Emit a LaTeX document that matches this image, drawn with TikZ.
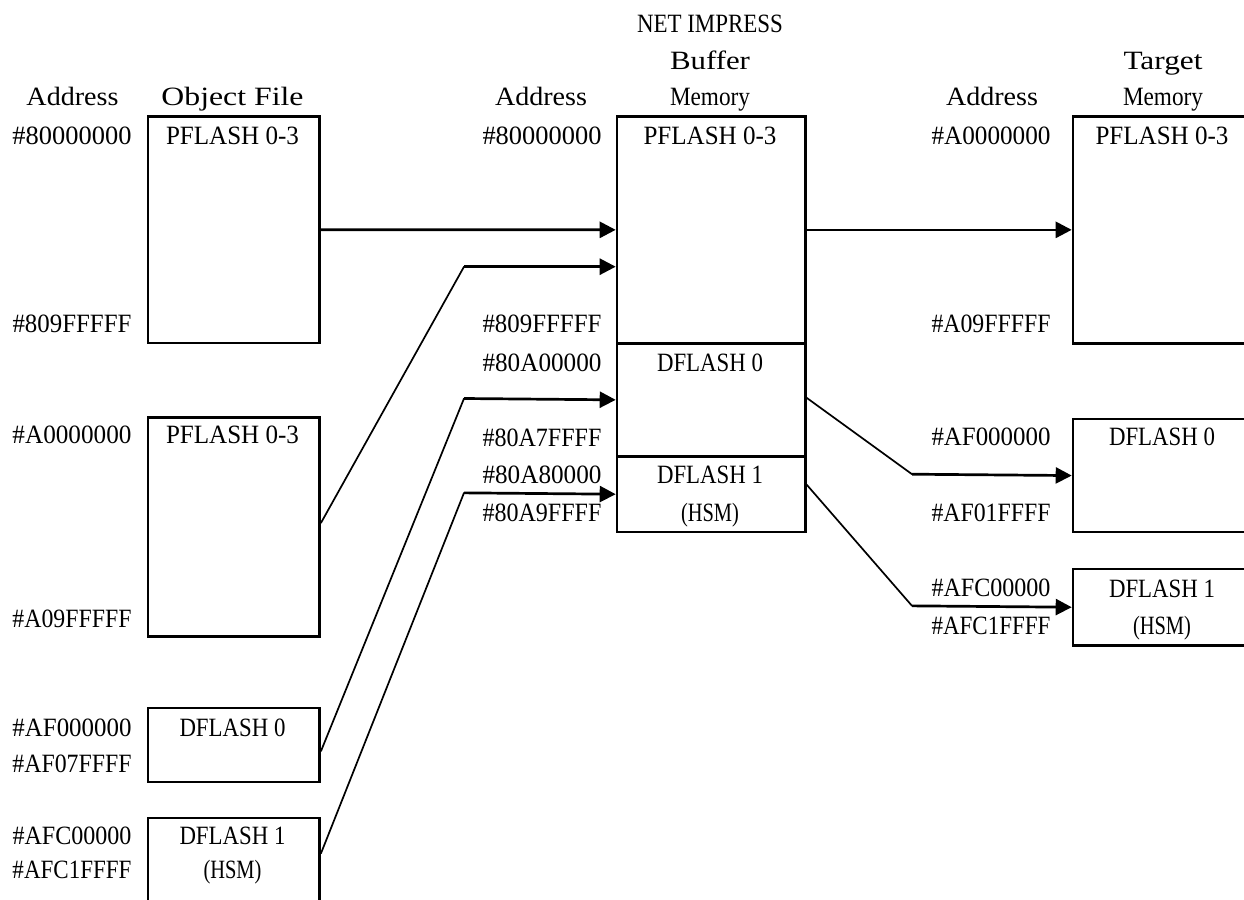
\documentclass[tikz,border=0pt]{standalone}
\usepackage{fontspec}
\usepackage{graphicx}
\setmainfont{Liberation Serif}
\usetikzlibrary{arrows.meta}
\newcommand\fitw[2]{\resizebox{#1pt}{\height}{#2}}
\begin{document}
\begin{tikzpicture}[x=1pt,y=-1pt,
  box/.style={draw, line width=2.7pt, rectangle, inner sep=0pt, anchor=north west},
  lbl/.style={inner sep=0pt, font=\fontsize{26.4}{30}\selectfont},
  addr/.style={lbl, anchor=base east},
  ctr/.style={lbl, anchor=base},
  conn/.style={line width=1.7pt, line cap=round},
  arr/.style={line width=2.7pt, -{Triangle[length=16pt,width=16pt]}}
]
\useasboundingbox (0,0) rectangle (1244,899);
\clip (0,0) rectangle (1244,899);

% boxes
\node[box, minimum width=171.6pt, minimum height=226.7pt] (L1) at (146.7,115) {};
\node[box, minimum width=171.6pt, minimum height=219pt] (L2) at (146.7,416) {};
\node[box, minimum width=171.6pt, minimum height=74pt] (L3) at (146.7,706.7) {};
\node[box, minimum width=171.6pt, minimum height=103.3pt] (L4) at (146.7,816.7) {};
\node[box, minimum width=188.3pt, minimum height=227pt] (M1) at (615.7,115) {};
\node[box, minimum width=188.3pt, minimum height=113pt] (M2) at (615.7,342) {};
\node[box, minimum width=188.3pt, minimum height=75.7pt] (M3) at (615.7,455) {};
\node[box, minimum width=181pt, minimum height=227pt] (R1) at (1071.7,115) {};
\node[box, minimum width=181pt, minimum height=113pt] (R2) at (1071.7,417.7) {};
\node[box, minimum width=181pt, minimum height=76.3pt] (R3) at (1071.7,567.7) {};

% headers
\node[ctr] (hA1) at (72.5,106) {\fitw{92}{Address}};
\node[ctr] (hOF) at (232.5,106) {\fitw{142}{Object File}};
\node[ctr] (hA2) at (541,106) {\fitw{92}{Address}};
\node[ctr] (hNI) at (710,33) {\fitw{146}{NET IMPRESS}};
\node[ctr] (hBu) at (710,70) {\fitw{80}{Buffer}};
\node[ctr] (hMe) at (710,106) {\fitw{80}{Memory}};
\node[ctr] (hA3) at (992,106) {\fitw{92}{Address}};
\node[ctr] (hTa) at (1163,70) {\fitw{79}{Target}};
\node[ctr] (hTM) at (1163,106) {\fitw{80}{Memory}};

% left addresses
\node[addr] (la1) at (131.7,144) {\fitw{119}{\#80000000}};
\node[addr] (la2) at (131.7,332) {\fitw{119}{\#809FFFFF}};
\node[addr] (la3) at (131.7,443) {\fitw{119}{\#A0000000}};
\node[addr] (la4) at (131.7,627) {\fitw{119}{\#A09FFFFF}};
\node[addr] (la5) at (131.7,736) {\fitw{119}{\#AF000000}};
\node[addr] (la6) at (131.7,772) {\fitw{119}{\#AF07FFFF}};
\node[addr] (la7) at (131.7,844) {\fitw{119}{\#AFC00000}};
\node[addr] (la8) at (131.7,878) {\fitw{119}{\#AFC1FFFF}};
% left labels
\node[ctr] (lt1) at (232.5,144) {\fitw{133}{PFLASH 0-3}};
\node[ctr] (lt2) at (232.5,443) {\fitw{133}{PFLASH 0-3}};
\node[ctr] (lt3) at (232.5,736) {\fitw{106}{DFLASH 0}};
\node[ctr] (lt4) at (232.5,844) {\fitw{106}{DFLASH 1}};
\node[ctr] (lt5) at (232.5,878) {\fitw{58}{(HSM)}};

% middle addresses
\node[addr] (ma1) at (601.7,144) {\fitw{119}{\#80000000}};
\node[addr] (ma2) at (601.7,332) {\fitw{119}{\#809FFFFF}};
\node[addr] (ma3) at (601.7,371) {\fitw{119}{\#80A00000}};
\node[addr] (ma4) at (601.7,446) {\fitw{119}{\#80A7FFFF}};
\node[addr] (ma5) at (601.7,483.5) {\fitw{119}{\#80A80000}};
\node[addr] (ma6) at (601.7,521.5) {\fitw{119}{\#80A9FFFF}};
\node[ctr] (mt1) at (710,144) {\fitw{133}{PFLASH 0-3}};
\node[ctr] (mt2) at (710,371) {\fitw{106}{DFLASH 0}};
\node[ctr] (mt3) at (710,483.5) {\fitw{106}{DFLASH 1}};
\node[ctr] (mt4) at (710,521.5) {\fitw{58}{(HSM)}};

% right addresses
\node[addr] (ra1) at (1050.7,144) {\fitw{119}{\#A0000000}};
\node[addr] (ra2) at (1050.7,332) {\fitw{119}{\#A09FFFFF}};
\node[addr] (ra3) at (1050.7,445) {\fitw{119}{\#AF000000}};
\node[addr] (ra4) at (1050.7,521.7) {\fitw{119}{\#AF01FFFF}};
\node[addr] (ra5) at (1050.7,596.7) {\fitw{119}{\#AFC00000}};
\node[addr] (ra6) at (1050.7,634) {\fitw{119}{\#AFC1FFFF}};
\node[ctr] (rt1) at (1162,144) {\fitw{133}{PFLASH 0-3}};
\node[ctr] (rt2) at (1162,445) {\fitw{106}{DFLASH 0}};
\node[ctr] (rt3) at (1162,597) {\fitw{106}{DFLASH 1}};
\node[ctr] (rt4) at (1162,634) {\fitw{58}{(HSM)}};

% bend points
\coordinate (b2) at (464,266.7);
\coordinate (b3) at (464,398.5);
\coordinate (b4) at (464,492.85);
\coordinate (c2) at (912,474.2);
\coordinate (c3) at (912,605.85);

% connectors left -> middle
\draw[arr] (L1.east) -- (M1.west);
\draw[conn] ([yshift=4pt]L2.east) -- (b2);
\draw[arr] (b2) -- (b2 -| M1.west);
\draw[conn] ([yshift=-6pt]L3.east) -- (b3);
\draw[arr] (b3) -- (M2.west);
\draw[conn] ([yshift=-36.6pt]L4.north east) -- (b4);
\draw[arr] (b4) -- (M3.west);

% connectors middle -> right
\draw[arr] (M1.east) -- (R1.west);
\draw[conn] ([yshift=2pt]M2.east) -- (c2);
\draw[arr] (c2) -- (R2.west);
\draw[conn] ([yshift=9.5pt]M3.east) -- (c3);
\draw[arr] (c3) -- (R3.west);
\end{tikzpicture}
\end{document}
